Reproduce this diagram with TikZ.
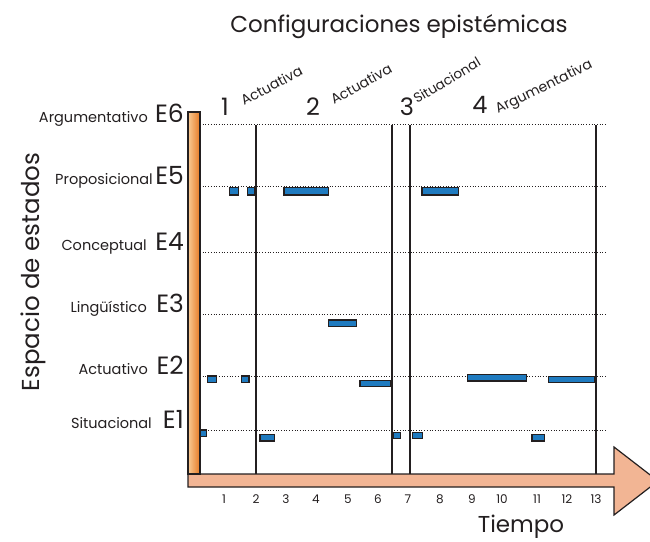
\documentclass[tikz,border=0pt]{standalone}
\usepackage{fontspec}
\setmainfont{Poppins}
\definecolor{ink}{HTML}{231F20}
\definecolor{barblue}{HTML}{1F7BC0}
\definecolor{salmon}{HTML}{F2B594}
\definecolor{orlight}{HTML}{F9CB95}
\definecolor{ordark}{HTML}{E67A25}
\tikzset{
  fs/.style={font=\fontsize{#1}{#1}\selectfont},
  txt/.style={text=ink, inner sep=0pt},
  grid/.style={ink, line width=0.7pt, dotted},
  sep/.style={ink, line width=1.6pt},
  bar/.style={fill=barblue, draw=ink, line width=1.2pt},
}
\begin{document}
\begin{tikzpicture}[x=1pt,y=-1pt]
\useasboundingbox (0,0) rectangle (650,541);
\clip (0,0) rectangle (650,541);
% title
\node[txt, fs=23, anchor=base] (title) at (399,32) {Configuraciones epistémicas};
% dotted level lines
\foreach \yy/\nm in {124/l6,186/l5,252/l4,314/l3,376/l2,430/l1}{
  \coordinate (\nm a) at (200,\yy);
  \coordinate (\nm b) at (607,\yy);
  \draw[grid] (\nm a) -- (\nm b);
}
% separators
\foreach \xx/\nm in {256/s1,392/s2,410/s3,596/s4}{
  \coordinate (\nm t) at (\xx,125);
  \coordinate (\nm b) at (\xx,474);
  \draw[sep] (\nm t) -- (\nm b);
}
% time arrow
\draw[ink, line width=1.2pt, fill=salmon] (188,474) -- (614,474) -- (614,447) -- (658,481) -- (614,515) -- (614,487) -- (188,487) -- cycle;
% vertical state bar
\draw[ink, line width=1.2pt, left color=orlight, right color=ordark] (188,112) rectangle (200,474);
% level labels
\foreach \yy/\e/\lab/\nm/\xr in {124/E6/Argumentativo/a6/148,186/E5/Proposicional/a5/153,252/E4/Conceptual/a4/147,314/E3/Lingüístico/a3/147,376/E2/Actuativo/a2/148,430/E1/Situacional/a1/152}{
  \node[txt, fs=25, anchor=base east] (\nm e) at (184,\yy-1.5) {\e};
  \node[txt, fs=14.5, anchor=base east] (\nm t) at (\xr,\yy-1.5) {\lab};
}
% axis title
\node[txt, fs=24.5, rotate=90, anchor=base] (ylab) at (39,272) {Espacio de estados};
\node[txt, fs=23, anchor=base] (xlab) at (521,532) {Tiempo};
% axis numbers
\foreach \xx [count=\i] in {224,256,286,316,348,378,408,440,472,502,537,567,596}{
  \node[txt, fs=12, anchor=base] (n\i) at (\xx,503) {\i};
}
% configuration numbers and names
\node[txt, fs=24, anchor=base] (c1) at (225,115) {1};
\node[txt, fs=24, anchor=base] (c2) at (313,115) {2};
\node[txt, fs=24, anchor=base] (c3) at (407,115) {3};
\node[txt, fs=24, anchor=base] (c4) at (480,113) {4};
\node[txt, fs=14, anchor=base west, rotate=28] (k1) at (244,106) {Actuativa};
\node[txt, fs=14, anchor=base west, rotate=29] (k2) at (334,105) {Actuativa};
\node[txt, fs=13.5, anchor=base west, rotate=31] (k3) at (417,104) {Situacional};
\node[txt, fs=14, anchor=base west, rotate=26] (k4) at (498,114) {Argumentativa};
% bars
\foreach \xa/\ya/\xb/\yb in {
  229.3/187.5/238.7/195, 247.3/187.5/255/195, 284/187.5/328.3/195, 422/187.5/458.7/195,
  328.3/320/356.7/326.7,
  207.7/376/216.7/382.7, 241.7/376/249/382.7, 360/380.3/390.7/386.7, 467.7/374.5/526.7/381, 548.3/376.3/594.3/382.7,
  200/430/206.7/436.7, 260/434.3/274.3/441, 393.7/432.3/400.7/438.7, 412.3/432.3/422.7/438.7, 532/434.3/544.7/441}{
  \draw[bar] (\xa,\ya) rectangle (\xb,\yb);
}
\end{tikzpicture}
\end{document}
